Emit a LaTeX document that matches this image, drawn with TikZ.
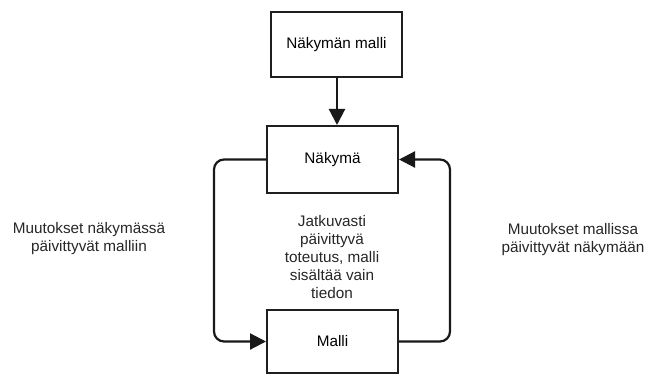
\documentclass[tikz,border=0pt]{standalone}
\usepackage{fontspec}
\setmainfont{Liberation Sans}
\usetikzlibrary{arrows.meta}
\begin{document}
\begin{tikzpicture}[x=1pt,y=-1pt,
  box/.style={draw=black!88, line width=2pt, minimum width=131pt, inner sep=0pt,
    font=\fontsize{15.3}{18}\selectfont},
  link/.style={draw=black!90, line width=2.2pt,
    -{Triangle[length=16pt,width=16pt]}},
  note/.style={align=center, inner sep=0pt, font=\fontsize{15.3}{18}\selectfont, text=black!85}]
  \useasboundingbox (0,0) rectangle (648,374);

  % three boxes
  \node[box, minimum height=65pt] (viewmodel) at (336.5,44.5) {Näkymän malli};
  \node[box, minimum height=67pt] (view) at (332.5,159.5) {Näkymä};
  \node[box, minimum height=63pt] (model) at (332.5,341.5) {Malli};

  % connectors
  \draw[link] (viewmodel.south -| 337,0) -- (view.north -| 337,0);
  \draw[link, rounded corners=10pt] (view.west) -- ++(-52,0) |- (model.west);
  \draw[link, rounded corners=10pt] (model.east) -- ++(51,0) |- (view.east);

  % texts
  \node[note] (lefttext) at (89,239) {Muutokset näkymässä\\päivittyvät malliin};
  \node[note] (righttext) at (573,240) {Muutokset mallissa\\päivittyvät näkymään};
  \node[note] (midtext) at (332,257.5) {Jatkuvasti\\päivittyvä\\toteutus, malli\\sisältää vain\\tiedon};
\end{tikzpicture}
\end{document}
